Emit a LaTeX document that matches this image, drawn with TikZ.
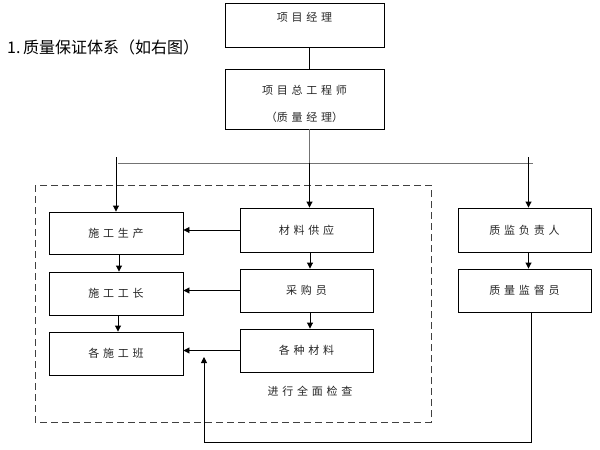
\documentclass[tikz,border=0pt]{standalone}
\usepackage{fontspec}
\setmainfont{Liberation Sans}
\newfontfamily\cjk{Noto Sans CJK SC}
\usetikzlibrary{arrows.meta}
\newcommand\ls{\hspace{3.8pt}}
\tikzset{
  box/.style={draw=black, line width=0.9pt, rectangle, inner sep=0pt,
    font=\cjk\fontsize{11}{13}\selectfont, text=black!85},
  cw/.style={minimum width=134pt, minimum height=43pt},
  arr/.style={draw=black, line width=0.9pt, -{Triangle[length=6pt,width=6pt]}},
  ln/.style={draw=black, line width=0.9pt},
  gln/.style={draw=black!55, line width=0.9pt},
}
\begin{document}
\begin{tikzpicture}[x=1pt,y=-1pt]
\useasboundingbox[fill=white] (0,0) rectangle (600,450);
% dashed frame
\draw[black!75, line width=0.9pt, dash pattern=on 7pt off 4pt] (35,185) rectangle (431,422);
% title
\node[anchor=west, inner sep=0pt, font=\cjk\fontsize{16}{18}\selectfont] (title) at (7,47) {1.\,质量保证体系（如右图）};
% top boxes
\node[box, minimum width=159pt, minimum height=44pt] (pm) at (304.5,25) {\smash{\raisebox{4pt}{项\ls 目\ls 经\ls 理}}};
\node[box, minimum width=159pt, minimum height=60pt] (cte) at (304.5,99)
  {\smash{\raisebox{-9pt}{\begin{tabular}{@{}c@{}}项\ls 目\ls 总\ls 工\ls 程\ls 师\\[13pt]（质\ls 量\ls 经\ls 理）\end{tabular}}}};
% left column
\node[box, cw, minimum height=42pt] (sgsc) at (116,233) {施\ls 工\ls 生\ls 产};
\node[box, cw] (sggz) at (116,293.5) {施\ls 工\ls 工\ls 长};
\node[box, cw] (gsgb) at (116,353.5) {各\ls 施\ls 工\ls 班};
% middle column
\node[box, cw, minimum width=133pt, minimum height=44pt] (clgy) at (306.5,230) {材\ls 料\ls 供\ls 应};
\node[box, cw, minimum width=133pt] (cgy) at (306.5,290.5) {采\ls 购\ls 员};
\node[box, cw, minimum width=133pt] (gzcl) at (306.5,350.5) {各\ls 种\ls 材\ls 料};
% right column
\node[box, cw, minimum width=133pt, minimum height=44pt] (zj) at (524.5,230) {质\ls 监\ls 负\ls 责\ls 人};
\node[box, cw, minimum width=133pt] (zl) at (524.5,290.5) {质\ls 量\ls 监\ls 督\ls 员};
% label
\node[font=\cjk\fontsize{11}{13}\selectfont, text=black!85, inner sep=0pt] (chk) at (310,391) {进\ls 行\ls 全\ls 面\ls 检\ls 查};
% coordinates
\coordinate (tr) at (309.5,163);
\coordinate (lft) at (118,163);
\coordinate (rgt) at (533,163);
\coordinate (a1) at (116,157);
\coordinate (a3) at (528.5,157);
\coordinate (fb) at (204,442);
\coordinate (fbt) at (204,357);
% connectors
\draw[ln] (pm.south -| tr) -- (cte.north -| tr);
\draw[gln] (cte.south -| tr) -- (tr);
\draw[gln] (lft) -- (rgt);
\draw[arr] (a1) -- (a1 |- sgsc.north);
\draw[arr] (tr) -- (tr |- clgy.north);
\draw[arr] (a3) -- (a3 |- zj.north);
\draw[arr] (clgy.west) -- (clgy.west -| sgsc.east);
\draw[arr] (cgy.west) -- (cgy.west -| sggz.east);
\draw[arr] (gzcl.west) -- (gzcl.west -| gsgb.east);
\draw[arr] ([xshift=3pt]sgsc.south) -- ([xshift=3pt]sggz.north);
\draw[arr] ([xshift=2pt]sggz.south) -- ([xshift=2pt]gsgb.north);
\draw[arr] ([xshift=3.5pt]clgy.south) -- ([xshift=3.5pt]cgy.north);
\draw[arr] ([xshift=3.5pt]cgy.south) -- ([xshift=3.5pt]gzcl.north);
\draw[arr] ([xshift=4pt]zj.south) -- ([xshift=4pt]zl.north);
\draw[arr] ([xshift=6.5pt]zl.south) |- (fb) -- (fbt);
\end{tikzpicture}
\end{document}
